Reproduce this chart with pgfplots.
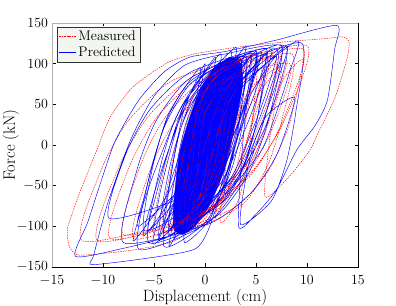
\RequirePackage{fix-cm}
\documentclass[border=0pt]{standalone}
\usepackage{pgfplots}
\pgfplotsset{compat=1.18}
\definecolor{legbg}{RGB}{242,245,240}
\begin{document}
\begin{tikzpicture}
\useasboundingbox (0,0) rectangle (396bp,306bp);
\begin{axis}[
  at={(52bp,39bp)}, anchor=south west,
  scale only axis, width=306bp, height=244bp,
  xmin=-15, xmax=15, ymin=-150, ymax=150,
  xtick={-15,-10,...,15}, ytick={-150,-100,...,150},
  tick align=inside, major tick length=3.5bp,
  tick style={black, line width=0.4pt},
  axis line style={black, line width=0.5pt},
  tick label style={font=\fontsize{14}{16}\selectfont},
  xticklabel style={yshift=-4.5bp},
  yticklabel style={xshift=-0.5bp},
  label style={font=\fontsize{16.5}{19}\selectfont},
  xlabel={Displacement (cm)}, ylabel={Force (kN)},
  xlabel style={yshift=3bp},
  ylabel style={at={(axis description cs:-0.162,0.5)}, anchor=north, inner sep=0pt},
  legend style={at={(0.015,0.985)}, anchor=north west, fill=legbg, draw=black!80,
    font=\fontsize{14}{16}\selectfont, inner sep=2pt, row sep=1pt},
  legend cell align=left,
]
% dense core of the predicted loops
\addplot[fill=blue, draw=blue, line width=0.4pt, forget plot, smooth, tension=0.4] coordinates {
(-3,-105) (-3.1,-80) (-2.9,-50) (-2.5,-10) (-1.6,30) (-0.4,70) (1,95) (2.5,108)
(3.5,100) (3.7,75) (3.2,40) (2.5,0) (1.6,-40) (0.4,-75) (-1,-100) (-2.2,-110) (-3,-105)};
% measured
\addplot[red, line width=0.45pt, dash pattern=on 1.5pt off 1pt, smooth, tension=0.4, forget plot] coordinates {
(0.5,30)
(0.25,-13.7) (-0.125,-44.75) (-0.75,-70) (-2,-85)
(-1.55,-16.6) (-0.875,32) (0.25,71.6) (2.5,95)
(1.9,20.9) (1,-31.75) (-0.5,-74.65) (-3.5,-100)
(-2.75,-22.1) (-1.625,33.25) (0.25,78.35) (4,105)
(3.1,23.3) (1.75,-34.75) (-0.5,-82) (-5,-110)
(-3.95,-25.6) (-2.375,34.3) (0.25,83.1) (5.5,112)
(4.7,33.3) (3.5,-22.55) (1.5,-68.1) (-2.5,-95)
(-1.55,-17.9) (-0.125,37) (2.25,81.6) (7,108)
(5.6,23.3) (3.5,-37) (0,-86) (-7,-115)
(-5.47,-33.3) (-3.175,24.75) (0.65,72) (8.3,100)
(6.54,18.3) (3.9,-39.75) (-0.5,-87) (-9.3,-115)
(-7.41,-26.5) (-4.575,36.45) (0.15,87.7) (9.6,118)
(7.59,28.3) (4.575,-35.4) (-0.45,-87.3) (-10.5,-118)
(-8.45,-26.8) (-5.375,38) (-0.25,90.8) (10,122)
(7.8,30.8) (4.5,-34) (-1,-86.8) (-12,-118)
(-10.2,-31.4) (-7.5,30.2) (-3,80.4) (6,110)
(5,40) (3,-30) (0,-90) (-3,-118) (-7,-129) (-10.5,-134) (-12.5,-135) (-13.3,-125) (-13.5,-104) (-12.9,-80) (-12.3,-59) (-10.6,-6) (-9.3,34) (-7.1,71) (-3.7,101) (-1,112) (3,120) (8,127) (12,131) (13.5,133) (14.1,128) (14,110) (12.8,60) (11.1,15) (10.3,-6) (8.3,-38) (5.9,-64)
(6.27,-0.2) (6.83,45.2) (7.75,82.2) (9.6,104)
(8.24,24.6) (6.2,-31.9) (2.8,-77.8) (-4,-105)
(-3.3,-27.1) (-2.25,28.25) (-0.5,73.35) (3,100)
(2.55,35.4) (1.875,-10.5) (0.75,-47.9) (-1.5,-70)
(-1.15,-13) (-0.625,27.5) (0.25,60.5) (2,80)
(1.5,13.5) (0.75,-33.75) (-0.5,-72.25) (-3,-95)
(-2.2,-17.1) (-1,38.25) (1,83.35) (5,110)
(4.65,32.1) (4.125,-23.25) (3.25,-68.35) (1.5,-95)
(2.1,-22.8) (3,28.5) (4.5,70.3) (7.5,95)
(5.95,17.1) (3.625,-38.25) (-0.25,-83.35) (-8,-110)
(-6.35,-25.6) (-3.875,34.3) (0.25,83.1) (8.5,112)
(7.55,31.4) (6.125,-25.8) (3.75,-72.4) (-1,-100)
(-0.8,-39.2) (-0.5,4) (0,39.2) (1,60)
};
% measured, narrower loops right of centre
\addplot[red, line width=0.45pt, dash pattern=on 1.5pt off 1pt, smooth, tension=0.4, forget plot] coordinates {
(-1,-95)
(-0.3,-53) (0.75,-6.8) (2.5,56.2) (6,115)
(5.45,75) (4.625,31) (3.25,-29) (0.5,-85)
(1.2,-46) (2.25,-3.1) (4,55.4) (7.5,110)
(6.55,67) (5.125,19.7) (2.75,-44.8) (-2,-105)
(-1.3,-60.4) (-0.25,-11.3) (1.5,55.6) (5,118)
(4.6,76.4) (4,30.6) (3,-31.8) (1,-90)
(1.7,-51) (2.75,-8.1) (4.5,50.4) (8,105)
(7.15,64) (5.875,18.9) (3.75,-42.6) (-0.5,-100)
(0,-57.6) (0.75,-11) (2,52.6) (4.5,112)
};
% predicted
\addplot[blue, line width=0.45pt, smooth, tension=0.4, forget plot] coordinates {
(-1,-60)
(-0.7,-4.9) (-0.25,34.3) (0.5,66.2) (2,85)
(1.55,14.7) (0.875,-35.3) (-0.25,-76) (-2.5,-100)
(-1.9,-22.1) (-1,33.3) (0.5,78.4) (3.5,105)
(3,34.7) (2.25,-15.3) (1,-56) (-1.5,-80)
(-0.9,-7) (0,44.8) (1.5,87) (4.5,112)
(3.75,29.5) (2.625,-29) (0.75,-76.8) (-3,-105)
(-2.45,-29) (-1.625,25) (-0.25,69) (2.5,95)
(1.8,15.2) (0.75,-41.5) (-1,-87.7) (-4.5,-115)
(-3.45,-26.5) (-1.875,36.5) (0.75,87.7) (6,118)
(5.2,37.1) (4,-20.5) (2,-67.3) (-2,-95)
(-1.05,-12.5) (0.375,46) (2.75,93.8) (7.5,122)
(6.2,30) (4.25,-35.3) (1,-88.5) (-5.5,-120)
(-4.45,-30.7) (-2.875,32.75) (-0.25,84.5) (5,115)
(3.6,30) (1.8,-50) (0.3,-105) (-1,-128) (-5,-138) (-11,-147)
(-10.9,-135) (-9.5,-70) (-7.3,6) (-5,60) (-2,98) (2,112) (8,120)
(5.9,22) (2.8,-47) (-1,-98) (-4.2,-115) (-8,-127) (-12.7,-137)
(-11.5,-95) (-10.2,-45) (-8.8,5) (-6.5,55) (-4,90) (-1.5,108) (2,115) (7,129) (12.9,147)
(12.7,117) (12,55) (10.8,24) (9,-6) (7,-55) (5,-85) (3.3,-101)
(3.57,-20) (3.98,37.5) (4.65,84.3) (6,112)
(5.1,31.4) (3.75,-25.8) (1.5,-72.4) (-3,-100)
(-1.75,-14.5) (0.125,46.25) (3.25,95.75) (9.5,125)
(8.9,40.3) (8,-20) (6.5,-69) (3.5,-98)
(4.03,-38.7) (4.83,3.4) (6.15,37.7) (8.8,58)
(7.12,-9.6) (4.6,-57.7) (0.4,-96.9) (-8,-120)
(-6.7,-31.8) (-4.75,30.8) (-1.5,81.8) (5,112)
(3.56,35.2) (1.4,-19.3) (-2.2,-63.7) (-9.4,-90)
(-7.76,-11) (-5.3,45.2) (-1.2,91) (7,118)
(5.65,24.5) (3.625,-41.9) (0.25,-96) (-6.5,-128)
(-5.45,-38.3) (-3.875,25.4) (-1.25,77.3) (4,108)
(3.25,25.2) (2.125,-33.7) (0.25,-81.7) (-3.5,-110)
(-2.85,-30.2) (-1.875,26.5) (-0.25,72.7) (3,100)
(2.55,29.7) (1.875,-20.25) (0.75,-61) (-1.5,-85)
(-1.2,-24.2) (-0.75,19) (0,54.2) (1.5,75)
(1.3,31.3) (1,0.25) (0.5,-25) (-0.5,-40)
(-0.05,13.2) (0.625,51) (1.75,81.8) (4,100)
(3.2,14.5) (2,-46.25) (0,-95.75) (-4,-125)
(-3.4,-43.3) (-2.5,14.75) (-1,62) (2,90)
(1.2,15.9) (0,-36.75) (-2,-79.65) (-6,-105)
(-5.1,-25.2) (-3.75,31.5) (-1.5,77.7) (3,105)
(2.5,19.5) (1.75,-41.25) (0.5,-90.75) (-2,-120)
(-1.7,-74.4) (-1.25,-42) (-0.5,-15.6) (1,0)
};
% predicted, narrower loops
\addplot[blue, line width=0.45pt, smooth, tension=0.4, forget plot] coordinates {
(-3,-110)
(-2.2,-65) (-1,-15.5) (1,52) (5,115)
(4.3,72) (3.25,24.7) (1.5,-39.8) (-2,-100)
(-1.15,-56.4) (0.125,-8.4) (2.25,57) (6.5,118)
(5.5,72) (4,21.4) (1.5,-47.6) (-3.5,-112)
(-2.75,-67.6) (-1.625,-18.8) (0.25,47.8) (4,110)
(3.15,64.4) (1.875,14.2) (-0.25,-54.2) (-4.5,-118)
(-3.3,-70.4) (-1.5,-18) (1.5,53.4) (7.5,120)
(6.6,77) (5.25,29.7) (3,-34.8) (-1.5,-95)
(-0.8,-53) (0.25,-6.8) (2,56.2) (5.5,115)
(4.45,67.6) (2.875,15.5) (0.25,-55.6) (-5,-122)
(-4.15,-76.6) (-2.875,-26.7) (-0.75,41.4) (3.5,105)
(2.9,63) (2,16.8) (0.5,-46.2) (-2.5,-105)
(-1.45,-59.6) (0.125,-9.7) (2.75,58.4) (8,122)
(7.1,79.6) (5.75,33) (3.5,-30.6) (-1,-90)
(-0.45,-50) (0.375,-6) (1.75,54) (4.5,110)
(3.75,65) (2.625,15.5) (0.75,-52) (-3,-115)
(-2.1,-69.6) (-0.75,-19.7) (1.5,48.4) (6,112)
(5,68) (3.5,19.6) (1,-46.4) (-4,-108)
(-2.7,-60.8) (-0.75,-8.9) (2.5,61.9) (9,128)
(8.3,90.4) (7.25,49) (5.5,-7.4) (2,-60)
(2.5,-26) (3.25,11.4) (4.5,62.4) (7,110)
(6.1,68) (4.75,21.8) (2.5,-41.2) (-2,-100)
};
% predicted, loops left of centre
\addplot[blue, line width=0.45pt, smooth, tension=0.4, forget plot] coordinates {
(-5,-100)
(-4.4,-58.4) (-3.5,-12.6) (-2,49.8) (1,108)
(0.3,64) (-0.75,15.6) (-2.5,-50.4) (-6,-112)
(-5.15,-66.6) (-3.875,-16.7) (-1.75,51.4) (2.5,115)
(1.85,73) (0.875,26.8) (-0.75,-36.2) (-4,-95)
(-3.6,-56) (-3,-13.1) (-2,45.4) (0,100)
(-0.7,56.4) (-1.75,8.4) (-3.5,-57) (-7,-118)
(-6,-70.4) (-4.5,-18) (-2,53.4) (3,120)
(2.15,75) (0.875,25.5) (-1.25,-42) (-5.5,-105)
(-4.8,-61.6) (-3.75,-13.9) (-2,51.2) (1.5,112)
(1,64.6) (0.25,12.5) (-1,-58.6) (-3.5,-125)
(-2.75,-75.6) (-1.625,-21.3) (0.25,52.8) (4,122)
(2.95,77.6) (1.375,28.8) (-1.25,-37.8) (-6.5,-100)
(-5.9,-61) (-5,-18.1) (-3.5,40.4) (-0.5,95)
(-0.9,53) (-1.5,6.8) (-2.5,-56.2) (-4.5,-115)
};
\addlegendimage{red, line width=0.45pt, dash pattern=on 1.5pt off 1pt}
\addlegendentry{Measured}
\addlegendimage{blue, line width=0.7pt}
\addlegendentry{Predicted}
\draw[gray!60, line width=0.8pt] (rel axis cs:0,0) -- (rel axis cs:0,1) -- (rel axis cs:1,1);
\end{axis}
\end{tikzpicture}
\end{document}
